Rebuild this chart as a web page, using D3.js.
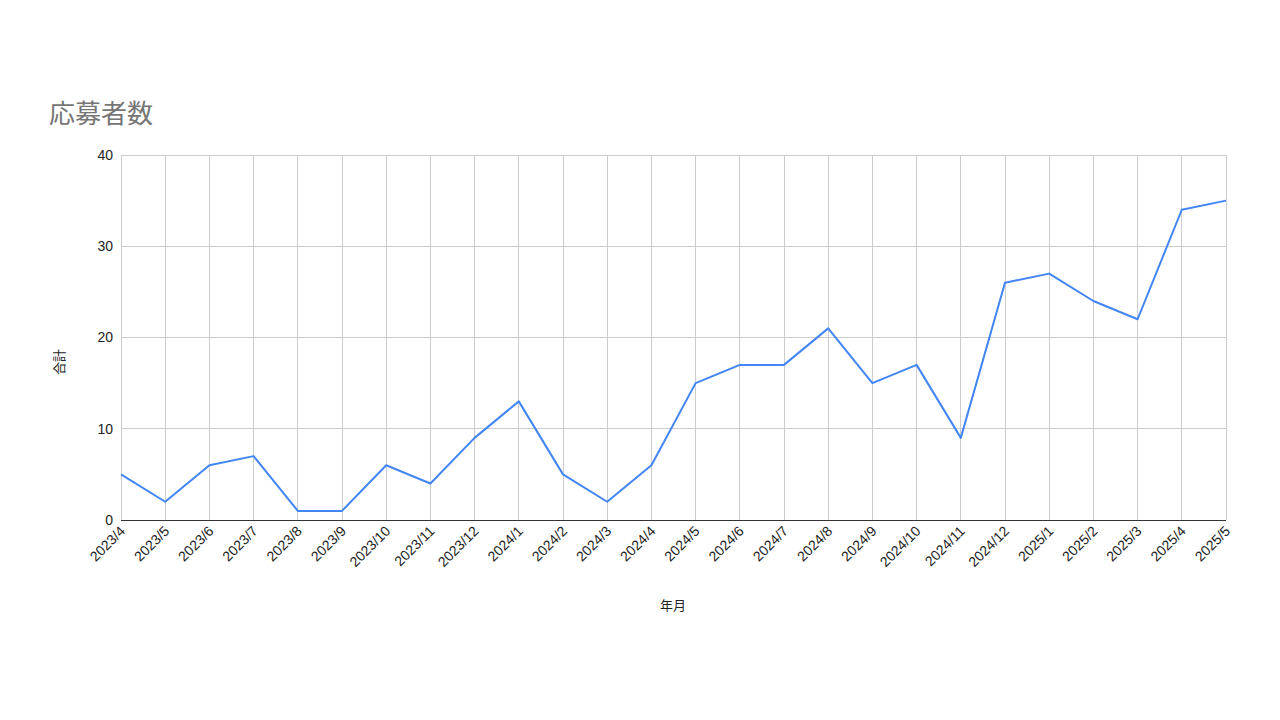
<!DOCTYPE html>
<html><head><meta charset="utf-8">
<script src="https://cdn.jsdelivr.net/npm/d3@7"></script>
<style>body{margin:0;background:#fff;}svg{display:block;}</style>
</head><body>
<svg id="c" width="1280" height="720"></svg>
<script>
const categories = ["2023/4","2023/5","2023/6","2023/7","2023/8","2023/9","2023/10","2023/11","2023/12","2024/1","2024/2","2024/3","2024/4","2024/5","2024/6","2024/7","2024/8","2024/9","2024/10","2024/11","2024/12","2025/1","2025/2","2025/3","2025/4","2025/5"];
const values = [5,2,6,7,1,1,6,4,9,13,5,2,6,15,17,17,21,15,17,9,26,27,24,22,34,35];
const yTicks = [0,10,20,30,40];
const title = "応募者数";
const xTitle = "年月";
const yTitle = "合計";

(function(){
const svg = d3.select("#c");
const font = "Arial, 'Liberation Sans', 'Noto Sans CJK JP', sans-serif";
const pL = 121, pR = 1226, pT = 155, pB = 520;
const x = d3.scalePoint().domain(categories).range([pL, pR]).padding(0);
const y = d3.scaleLinear().domain([0, 40]).range([pB, pT]);

svg.append("rect").attr("width",1280).attr("height",720).attr("fill","#fff");

svg.append("g").selectAll("line").data(yTicks.filter(t=>t>0)).join("line")
  .attr("x1", pL).attr("x2", pR).attr("y1", d=>y(d)).attr("y2", d=>y(d))
  .attr("stroke","#cccccc").attr("stroke-width",1).attr("shape-rendering","crispEdges");
svg.append("g").selectAll("line").data(categories).join("line")
  .attr("x1", d=>x(d)).attr("x2", d=>x(d)).attr("y1", pT).attr("y2", pB)
  .attr("stroke","#cccccc").attr("stroke-width",1).attr("shape-rendering","crispEdges");
svg.append("line").attr("x1", pL).attr("x2", pR).attr("y1", y(0)).attr("y2", y(0))
  .attr("stroke","#333").attr("stroke-width",1).attr("shape-rendering","crispEdges");

svg.append("g").selectAll("text").data(yTicks).join("text")
  .attr("x", pL - 8).attr("y", d=>y(d)).attr("dy","0.35em")
  .attr("text-anchor","end").attr("font-family",font).attr("font-size",14).attr("fill","#222")
  .text(d=>d);

svg.append("g").selectAll("text").data(categories).join("text")
  .attr("transform", d=>`translate(${x(d)+5},${pB+12}) rotate(-45)`)
  .attr("text-anchor","end").attr("font-family",font).attr("font-size",14).attr("fill","#222")
  .text(d=>d);

const line = d3.line().x((d,i)=>x(categories[i])).y(d=>y(d));
svg.append("path").datum(values).attr("d", line)
  .attr("fill","none").attr("stroke","#4285f4").attr("stroke-width",2).attr("stroke-linejoin","round");

svg.append("text").attr("x",49).attr("y",123).attr("font-family",font).attr("font-size",26)
  .attr("fill","#757575").text(title);
svg.append("text").attr("x",673).attr("y",610).attr("text-anchor","middle").attr("font-family",font)
  .attr("font-size",13).attr("fill","#222").text(xTitle);
svg.append("text").attr("transform","translate(64,362) rotate(-90)").attr("text-anchor","middle")
  .attr("font-family",font).attr("font-size",13).attr("fill","#222").text(yTitle);
})();
</script>
</body></html>
